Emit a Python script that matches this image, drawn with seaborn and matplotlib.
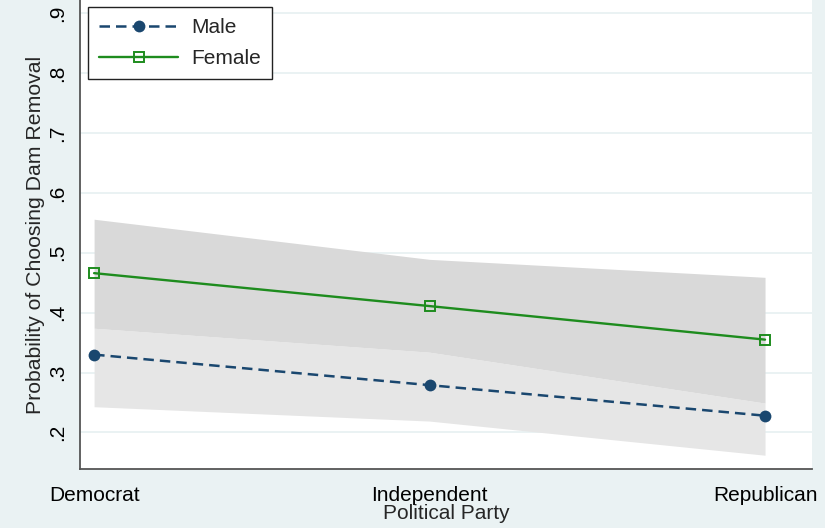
import matplotlib
matplotlib.use("Agg")
import matplotlib.pyplot as plt
import seaborn as sns
import pandas as pd

# Predicted probabilities by party and gender, with 95% confidence bands
parties = ["Democrat", "Independent", "Republican"]
male_prob = [0.330, 0.279, 0.228]
male_lo = [0.243, 0.219, 0.162]
male_hi = [0.374, 0.334, 0.249]
female_prob = [0.466, 0.411, 0.355]
female_lo = [0.374, 0.334, 0.249]
female_hi = [0.556, 0.489, 0.459]
yticks = [0.2, 0.3, 0.4, 0.5, 0.6, 0.7, 0.8, 0.9]

BG = "#eaf2f3"
NAVY = "#1a476f"
GREEN = "#1e8c1e"

sns.set_theme(style="white")
plt.rcParams["font.family"] = ["Liberation Sans", "DejaVu Sans"]

pos = list(range(len(parties)))
df = pd.DataFrame({
    "party": pos * 2,
    "prob": male_prob + female_prob,
    "sex": ["Male"] * 3 + ["Female"] * 3,
})

fig = plt.figure(figsize=(8.25, 5.28), dpi=100, facecolor=BG)
ax = fig.add_axes([80 / 825, 59 / 528, 732 / 825, 469 / 528])
ax.set_facecolor("white")

# confidence bands
ax.fill_between(pos, male_lo, male_hi, color="#e6e6e6", lw=0, zorder=1)
ax.fill_between(pos, female_lo, female_hi, color="#d9d9d9", lw=0, zorder=1)

sns.lineplot(
    data=df, x="party", y="prob", hue="sex", style="sex",
    hue_order=["Male", "Female"], style_order=["Male", "Female"],
    palette={"Male": NAVY, "Female": GREEN},
    markers={"Male": "o", "Female": "s"},
    dashes={"Male": (4.2, 2.4), "Female": ""},
    ax=ax, zorder=3, legend=False,
)
lines = ax.get_lines()
male_line, female_line = lines[0], lines[1]
male_line.set_linewidth(1.8)
male_line.set_markersize(8.5)
male_line.set_markeredgewidth(0)
female_line.set_linewidth(1.7)
female_line.set_markersize(7)
female_line.set_markerfacecolor("none")
female_line.set_markeredgecolor(GREEN)
female_line.set_markeredgewidth(1.4)

ax.set_xlim(-0.042, 2.14)
ax.set_ylim(0.139, 0.922)
ax.set_xticks(pos)
ax.set_xticklabels(parties, fontsize=15)
ax.set_yticks(yticks)
ax.set_yticklabels([f"{v:.1f}".lstrip("0") for v in yticks], fontsize=15,
                   rotation=90, va="center")
for y in yticks:
    ax.axhline(y, color=BG, lw=1.4, zorder=0)

for s in ["top", "right"]:
    ax.spines[s].set_visible(False)
for s in ["left", "bottom"]:
    ax.spines[s].set_color("#555555")
    ax.spines[s].set_linewidth(1.3)
ax.tick_params(axis="both", direction="out", length=4.5, width=1.2,
               color="#555555", labelcolor="black", pad=5)
ax.tick_params(axis="x", pad=8)

ax.set_xlabel("Political Party", fontsize=15, labelpad=-1)
ax.set_ylabel("Probability of Choosing Dam Removal", fontsize=15.3, labelpad=2)

leg = ax.legend([male_line, female_line], ["Male", "Female"], loc="upper left",
                bbox_to_anchor=(8 / 732, 1 - 7 / 469), borderaxespad=0,
                fontsize=15, frameon=True,
                fancybox=False, framealpha=1, edgecolor="#222222",
                handlelength=3.75, borderpad=0.55, labelspacing=0.55,
                handletextpad=0.65)
leg.get_frame().set_linewidth(1.0)

fig.savefig("out.png", dpi=100, facecolor=BG)
